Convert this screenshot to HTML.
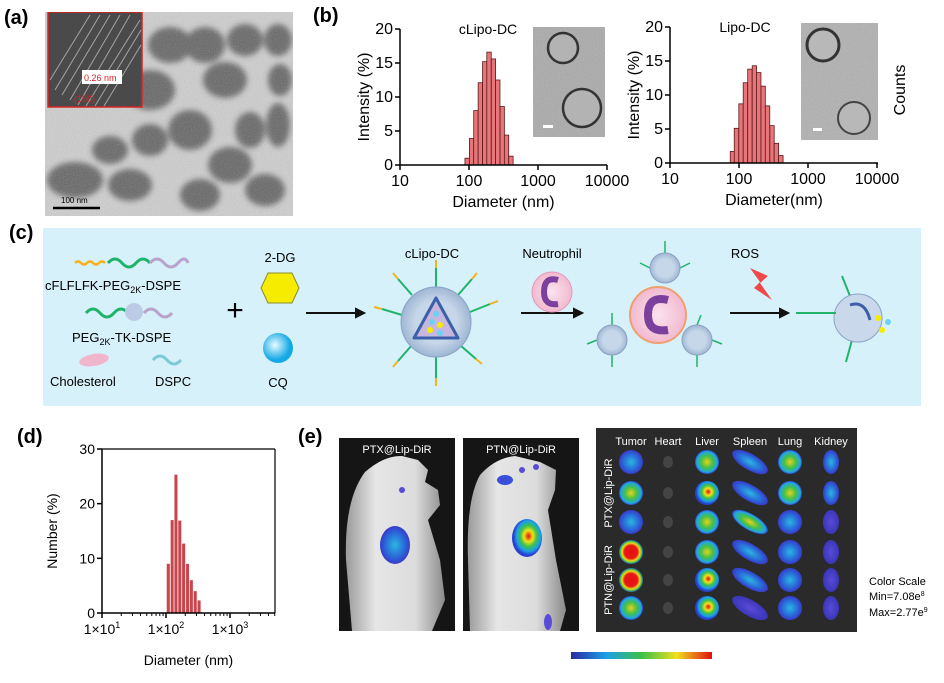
<!DOCTYPE html>
<html><head><meta charset="utf-8">
<style>
html,body{margin:0;padding:0;background:#fff;}
svg{display:block;font-family:"Liberation Sans",Arial,sans-serif;}
</style></head>
<body>
<svg id="fig" width="944" height="683" viewBox="0 0 944 683" xmlns="http://www.w3.org/2000/svg">
<defs>
<filter id="blur4" x="-50%" y="-50%" width="200%" height="200%"><feGaussianBlur stdDeviation="3"/></filter>
<filter id="noise" x="0" y="0" width="1" height="1" filterUnits="objectBoundingBox"><feTurbulence type="fractalNoise" baseFrequency="0.9" numOctaves="2" result="n"/><feColorMatrix type="saturate" values="0"/><feComponentTransfer><feFuncA type="linear" slope="0.35"/></feComponentTransfer><feComposite in2="SourceGraphic" operator="in"/></filter>
<clipPath id="clipA"><rect x="45" y="12" width="248" height="204"/></clipPath>
<clipPath id="clipB1"><rect x="533" y="27" width="72" height="110"/></clipPath>
<clipPath id="clipB2"><rect x="801" y="23" width="77" height="117"/></clipPath>
<radialGradient id="cqg" cx="0.4" cy="0.4"><stop offset="0" stop-color="#e8fbff"/><stop offset="1" stop-color="#14a9e6"/></radialGradient>
<radialGradient id="lipg"><stop offset="0.6" stop-color="#c7d7ea"/><stop offset="1" stop-color="#9fb6d3"/></radialGradient>
<radialGradient id="neug"><stop offset="0" stop-color="#fbe3ee"/><stop offset="1" stop-color="#f1b9cf"/></radialGradient>
<radialGradient id="heat" cx="0.55" cy="0.45"><stop offset="0" stop-color="#e01010"/><stop offset="0.3" stop-color="#f2e21a"/><stop offset="0.55" stop-color="#3cc24a"/><stop offset="0.8" stop-color="#1aa0e8"/><stop offset="1" stop-color="#2a3fd0"/></radialGradient>
<radialGradient id="heatG"><stop offset="0" stop-color="#e8d21a"/><stop offset="0.5" stop-color="#42c04a"/><stop offset="0.85" stop-color="#22a8e0"/><stop offset="1" stop-color="#2c45d0"/></radialGradient>
<radialGradient id="heatB"><stop offset="0" stop-color="#2bb6e0"/><stop offset="0.7" stop-color="#2a62d8"/><stop offset="1" stop-color="#3a3ac8"/></radialGradient>
<radialGradient id="heatR"><stop offset="0" stop-color="#e41010"/><stop offset="0.55" stop-color="#e81818"/><stop offset="0.75" stop-color="#eedc1a"/><stop offset="0.9" stop-color="#3cbf4a"/><stop offset="1" stop-color="#2a58d8"/></radialGradient>
<radialGradient id="heatV"><stop offset="0" stop-color="#5a4ad8"/><stop offset="1" stop-color="#3a36b8"/></radialGradient>
<linearGradient id="cbar" x1="0" x2="1"><stop offset="0" stop-color="#2a2aa0"/><stop offset="0.25" stop-color="#1ea0e8"/><stop offset="0.5" stop-color="#3cc048"/><stop offset="0.75" stop-color="#f0e020"/><stop offset="1" stop-color="#e01010"/></linearGradient>
<linearGradient id="mouseg" x1="0" x2="1"><stop offset="0" stop-color="#9a9a9a"/><stop offset="0.3" stop-color="#e6e6e6"/><stop offset="0.7" stop-color="#dcdcdc"/><stop offset="1" stop-color="#8a8a8a"/></linearGradient>
</defs>

<!-- Panel a -->
<text x="4" y="24" font-size="20" font-weight="bold">(a)</text>
<g clip-path="url(#clipA)">
<rect x="45" y="12" width="248" height="204" fill="#cfcfcf"/>
<g filter="url(#blur4)" fill="#4a4a4a" opacity="0.8">
<ellipse cx="170" cy="45" rx="22" ry="18"/><ellipse cx="205" cy="45" rx="20" ry="18"/><ellipse cx="245" cy="40" rx="18" ry="16"/><ellipse cx="278" cy="40" rx="14" ry="16"/>
<ellipse cx="225" cy="80" rx="22" ry="18"/><ellipse cx="150" cy="90" rx="25" ry="20"/><ellipse cx="280" cy="80" rx="12" ry="16"/>
<ellipse cx="190" cy="130" rx="22" ry="20"/><ellipse cx="250" cy="130" rx="15" ry="18"/><ellipse cx="278" cy="125" rx="12" ry="22"/>
<ellipse cx="150" cy="140" rx="18" ry="16"/><ellipse cx="110" cy="150" rx="18" ry="14"/>
<ellipse cx="75" cy="180" rx="28" ry="18"/><ellipse cx="130" cy="185" rx="22" ry="16"/><ellipse cx="230" cy="165" rx="22" ry="18"/><ellipse cx="200" cy="195" rx="20" ry="16"/><ellipse cx="265" cy="190" rx="20" ry="16"/>
</g>
<rect x="45" y="12" width="248" height="204" fill="#888" filter="url(#noise)"/>
<rect x="48" y="12" width="94" height="95" fill="#4a4a4a" stroke="#d22" stroke-width="1.5"/>
<g stroke="#eee" stroke-width="1" opacity="0.55">
<line x1="55" y1="90" x2="100" y2="15"/><line x1="62" y1="95" x2="110" y2="15"/><line x1="70" y1="100" x2="120" y2="15"/><line x1="78" y1="105" x2="130" y2="15"/><line x1="86" y1="106" x2="140" y2="20"/><line x1="95" y1="106" x2="141" y2="30"/><line x1="104" y1="106" x2="141" y2="45"/><line x1="50" y1="80" x2="90" y2="15"/>
</g>
<rect x="82" y="70" width="40" height="14" fill="#fff"/>
<text x="84" y="81" font-size="9" fill="#d22">0.26 nm</text>
<text x="74" y="102" font-size="9" fill="#d22">(150)</text>
<line x1="53" y1="208" x2="100" y2="208" stroke="#000" stroke-width="2.5"/>
<text x="61" y="203" font-size="8">100 nm</text>
</g>

<!-- Panel b -->
<text x="313" y="22" font-size="20" font-weight="bold">(b)</text>
<g id="chartB1"></g>
<g id="chartB2"></g>
<g clip-path="url(#clipB1)">
<rect x="533" y="27" width="72" height="110" fill="#a9a9a9"/>
<rect x="533" y="27" width="72" height="110" fill="#888" filter="url(#noise)"/>
<circle cx="563" cy="48" r="15" fill="#b3b3b3" stroke="#333" stroke-width="2.5"/>
<circle cx="582" cy="108" r="19" fill="#b3b3b3" stroke="#333" stroke-width="2.5"/>
<rect x="543" y="125" width="10" height="3" fill="#fff"/>
</g>
<g clip-path="url(#clipB2)">
<rect x="801" y="23" width="77" height="117" fill="#b0b0b0"/>
<rect x="801" y="23" width="77" height="117" fill="#888" filter="url(#noise)"/>
<circle cx="823" cy="45" r="16" fill="#b8b8b8" stroke="#333" stroke-width="3"/>
<circle cx="854" cy="118" r="16" fill="#b8b8b8" stroke="#444" stroke-width="2"/>
<rect x="813" y="128" width="9" height="3" fill="#fff"/>
</g>
<text transform="translate(905,90) rotate(-90)" text-anchor="middle" font-size="16">Counts</text>

<!-- Panel c -->
<text x="9" y="239" font-size="20" font-weight="bold">(c)</text>
<g>
<rect x="43" y="228" width="878" height="178" fill="#d6f1fa"/>
<path d="M75 263 q3 -3 6 0 t6 0 t6 0 t6 0 t6 0" stroke="#f5b21f" stroke-width="2.5" fill="none"/>
<path d="M108 263 q7 -8 14 0 t14 0 t14 0" stroke="#1fb46a" stroke-width="3" fill="none"/>
<path d="M150 263 q7 -8 14 0 t14 0 t10 0" stroke="#b9a2cc" stroke-width="3" fill="none"/>
<text x="45" y="290" font-size="13">cFLFLFK-PEG<tspan font-size="9" dy="3">2K</tspan><tspan dy="-3">-DSPE</tspan></text>
<path d="M86 313 q7 -8 14 0 t14 0 t14 0" stroke="#1fb46a" stroke-width="3" fill="none"/>
<circle cx="134" cy="312" r="9" fill="#bccce6"/>
<path d="M144 313 q7 -8 14 0 t14 0" stroke="#b9a2cc" stroke-width="3" fill="none"/>
<text x="72" y="342" font-size="13">PEG<tspan font-size="9" dy="3">2K</tspan><tspan dy="-3">-TK-DSPE</tspan></text>
<ellipse cx="94" cy="360" rx="15" ry="6" fill="#f2b6cc" transform="rotate(-10 94 360)"/>
<path d="M153 360 q7 -8 14 0 t14 0" stroke="#7dc9d8" stroke-width="3" fill="none"/>
<text x="50" y="386" font-size="13">Cholesterol</text>
<text x="155" y="386" font-size="13">DSPC</text>
<text x="235" y="320" font-size="30" text-anchor="middle">+</text>
<text x="280" y="262" font-size="13" text-anchor="middle">2-DG</text>
<polygon points="268,273 292,273 299,288 292,303 268,303 261,288" fill="#f5ec00" stroke="#8a8a30"/>
<circle cx="278" cy="348" r="15" fill="url(#cqg)"/>
<text x="278" y="387" font-size="13" text-anchor="middle">CQ</text>
<g stroke="#111" stroke-width="2" fill="#111">
<line x1="306" y1="313" x2="358" y2="313"/><polygon points="364,313 356,309 356,317"/>
<line x1="521" y1="313" x2="576" y2="313"/><polygon points="582,313 574,309 574,317"/>
<line x1="730" y1="313" x2="782" y2="313"/><polygon points="788,313 780,309 780,317"/>
</g>
<text x="432" y="258" font-size="13" text-anchor="middle">cLipo-DC</text>
<g stroke="#1fb46a" stroke-width="2" fill="none">
<path d="M436 288 l0 -20"/><path d="M402 315 l-20 -6"/><path d="M470 312 l20 -8"/><path d="M412 345 l-14 16"/><path d="M460 345 l16 14"/><path d="M436 356 l0 22"/><path d="M412 295 l-14 -16"/><path d="M458 295 l14 -16"/>
</g>
<g stroke="#f5b21f" stroke-width="2" fill="none">
<path d="M436 268 l0 -8"/><path d="M382 309 l-8 -2"/><path d="M490 304 l8 -3"/><path d="M398 361 l-5 6"/><path d="M476 359 l6 5"/><path d="M436 378 l0 8"/><path d="M398 279 l-5 -6"/><path d="M472 279 l5 -6"/>
</g>
<circle cx="436" cy="322" r="35" fill="url(#lipg)" stroke="#8aa3c5"/>
<polygon points="436,298 458,338 414,338" fill="#c7b6dd" stroke="#3b5fa8" stroke-width="3" stroke-linejoin="round"/>
<circle cx="432" cy="322" r="3" fill="#6ad3f4"/><circle cx="440" cy="325" r="3" fill="#f5ec00"/><circle cx="430" cy="330" r="3" fill="#f5ec00"/><circle cx="440" cy="333" r="3" fill="#6ad3f4"/><circle cx="436" cy="314" r="3" fill="#6ad3f4"/>
<text x="552" y="258" font-size="13" text-anchor="middle">Neutrophil</text>
<circle cx="552" cy="292" r="20" fill="url(#neug)" stroke="#e49ab8"/>
<path d="M558 280 q-14 -4 -14 12 q0 14 14 12" stroke="#7b3f9e" stroke-width="6" fill="none"/>
<circle cx="658" cy="315" r="28" fill="url(#neug)" stroke="#f0a070" stroke-width="2"/>
<path d="M668 300 q-20 -5 -20 15 q0 18 20 15" stroke="#7b3f9e" stroke-width="8" fill="none"/>
<g stroke="#1fb46a" stroke-width="1.5" fill="none">
<path d="M665 253 l0 -12"/><path d="M650 268 l-10 -5"/><path d="M680 268 l10 -5"/>
<path d="M612 325 l0 -12"/><path d="M597 340 l-10 4"/><path d="M612 355 l0 12"/>
<path d="M697 325 l4 -10"/><path d="M712 340 l10 4"/><path d="M697 355 l0 12"/>
</g>
<g fill="url(#lipg)" stroke="#8aa3c5">
<circle cx="665" cy="268" r="15"/><circle cx="612" cy="340" r="15"/><circle cx="697" cy="340" r="15"/>
</g>
<text x="745" y="258" font-size="13" text-anchor="middle">ROS</text>
<polygon points="750,268 768,276 760,283 772,300 754,288 760,282" fill="#f04848"/>
<g stroke="#1fb46a" stroke-width="2" fill="none"><path d="M850 296 l-8 -20"/><path d="M852 340 l-6 22"/></g>
<circle cx="858" cy="318" r="24" fill="#c9d8ea" stroke="#8aa3c5"/>
<path d="M850 305 q15 -5 20 15" stroke="#3b5fa8" stroke-width="3" fill="none"/>
<circle cx="878" cy="318" r="3" fill="#f5ec00"/><circle cx="888" cy="322" r="3" fill="#6ad3f4"/><circle cx="882" cy="330" r="3" fill="#f5ec00"/>
<path d="M796 313 l40 0" stroke="#1fb46a" stroke-width="2"/>
</g>

<!-- Panel d -->
<text x="17" y="443" font-size="20" font-weight="bold">(d)</text>
<g id="chartD"></g>

<!-- Panel e -->
<text x="298" y="443" font-size="20" font-weight="bold">(e)</text>
<g>
<rect x="339" y="438" width="116" height="193" fill="#151515"/>
<path d="M352 631 L346 560 Q344 500 365 472 Q385 455 402 456 L418 460 L428 470 L425 482 L438 490 L440 505 L428 520 L440 560 L445 600 L432 631 Z" fill="url(#mouseg)"/>
<ellipse cx="395" cy="545" rx="15" ry="19" fill="url(#heatB)"/>
<circle cx="402" cy="490" r="3" fill="#5a4ad8"/>
<text x="397" y="453" font-size="11" fill="#fff" text-anchor="middle">PTX@Lip-DiR</text>
</g>
<g>
<rect x="463" y="438" width="116" height="193" fill="#151515"/>
<path d="M470 631 L468 560 Q466 500 480 475 Q495 458 515 456 L540 462 L556 470 L555 490 L548 510 L556 560 L566 610 L560 631 Z" fill="url(#mouseg)"/>
<ellipse cx="527" cy="538" rx="15" ry="19" fill="url(#heat)"/>
<ellipse cx="505" cy="480" rx="8" ry="5" fill="#3a50d8"/><circle cx="522" cy="470" r="3" fill="#5a4ad8"/><circle cx="536" cy="467" r="3" fill="#5a4ad8"/>
<ellipse cx="548" cy="622" rx="4" ry="8" fill="#5a4ad8"/>
<text x="521" y="453" font-size="11" fill="#fff" text-anchor="middle">PTN@Lip-DiR</text>
</g>
<g>
<rect x="596" y="428" width="261" height="204" fill="#2a2a2a"/>
<g font-size="11" fill="#fff" text-anchor="middle">
<text x="631" y="445">Tumor</text>
<text x="668" y="445">Heart</text>
<text x="707" y="445">Liver</text>
<text x="750" y="445">Spleen</text>
<text x="790" y="445">Lung</text>
<text x="831" y="445">Kidney</text>
<text transform="translate(612,493) rotate(-90)">PTX@Lip-DiR</text>
<text transform="translate(612,580) rotate(-90)">PTN@Lip-DiR</text>
</g>
<g id="organs"></g>
</g>
<rect x="571" y="652" width="141" height="7" fill="url(#cbar)"/>
<g font-size="11">
<text x="869" y="585">Color Scale</text>
<text x="869" y="600">Min=7.08e<tspan font-size="7" dy="-4">8</tspan></text>
<text x="869" y="616">Max=2.77e<tspan font-size="7" dy="-4">9</tspan></text>
</g>
</svg>
<script>
// ---- Panel b (left) data ----
const b1Diam = [94,109,126,146,169,195,226,261,303,350,405];
const b1Vals = [1,3.9,8,12.1,15.2,16.6,15.6,12.5,8.6,4.4,1.3];
// ---- Panel b (right) data ----
const b2Diam = [80,92,107,124,144,167,193,224,259,301,348,404];
const b2Vals = [1.7,5.1,8.7,11.8,13.8,14.3,13.3,11.3,8.4,5.5,2.9,1.1];
const bXTicks = [10,100,1000,10000];
const bXTickLabels = ["10","100","1000","10000"];
const bYTicks = [0,5,10,15,20];
// ---- Panel d data ----
const dDiam = [107,123,141,162,186,214,245,282,324];
const dVals = [9,17,25.3,16.9,12.7,9,6,4,2.3];
const dXTicks = [10,100,1000];
const dYTicks = [0,10,20,30];

const NS="http://www.w3.org/2000/svg";
function mk(parent,tag,attrs,text){const e=document.createElementNS(NS,tag);for(const k in attrs)e.setAttribute(k,attrs[k]);if(text!==undefined)e.textContent=text;parent.appendChild(e);return e;}

function histChart(g,o){
  const xs=d=>o.x0+o.dec*(Math.log10(d)-Math.log10(o.xmin));
  const ys=v=>o.y0-(o.y0-o.ytop)*v/o.ymax;
  const n=o.diam.length;
  for(let i=0;i<n;i++){
    const lc=Math.log10(o.diam[i]);
    const step=n>1?(i<n-1?Math.log10(o.diam[i+1])-lc:lc-Math.log10(o.diam[i-1])):0.06;
    const xl=xs(Math.pow(10,lc-step/2)),xr=xs(Math.pow(10,lc+step/2));
    const r=mk(g,'rect',{x:xl+(o.gap||0),y:ys(o.vals[i]),width:Math.max(0.5,xr-xl-(o.gap||0)),height:o.y0-ys(o.vals[i]),fill:o.fill,stroke:o.stroke,'stroke-width':o.sw});
    
    
  }
  const ax=mk(g,'g',{stroke:'#000','stroke-width':1.5});
  mk(ax,'line',{x1:o.x0,y1:o.y0,x2:o.xend,y2:o.y0});
  mk(ax,'line',{x1:o.x0,y1:o.y0,x2:o.x0,y2:o.ytop});
  o.yt.forEach(v=>{mk(ax,'line',{x1:o.x0-5,y1:ys(v),x2:o.x0,y2:ys(v)});
    const t=mk(g,'text',{x:o.x0-7,y:ys(v)+5,'font-size':o.fs,'text-anchor':'end'},String(v));
    
    });
  o.xt.forEach((v,i)=>{mk(ax,'line',{x1:xs(v),y1:o.y0,x2:xs(v),y2:o.y0+5});
    const t=mk(g,'text',{x:xs(v),y:o.y0+21,'font-size':o.fs,'text-anchor':'middle'});
    if(o.sci){t.textContent='1×10';mk(t,'tspan',{'font-size':9,dy:-6},String(Math.round(Math.log10(v))));}
    else t.textContent=o.xl[i];
    
    });
  if(o.minor){for(let dd=1;dd<=3;dd++)for(let m=2;m<=9;m++){const v=m*Math.pow(10,dd);const x=xs(v);if(x<=o.xend)mk(ax,'line',{x1:x,y1:o.y0,x2:x,y2:o.y0+3,'stroke-width':1});}}
  const xt=mk(g,'text',{x:(o.x0+o.xend)/2,y:o.y0+o.xlabDy,'font-size':o.fs,'text-anchor':'middle'},o.xlab);
  
  
  const yt=mk(g,'text',{transform:`translate(${o.x0-o.ylabDx},${(o.y0+o.ytop)/2}) rotate(-90)`,'font-size':o.fs,'text-anchor':'middle'},o.ylab);
  
  
  if(o.title){const tt=mk(g,'text',{x:o.tx,y:o.ytop+5,'font-size':14,'text-anchor':'middle'},o.title);
    
    }
}
histChart(document.getElementById('chartB1'),{diam:b1Diam,vals:b1Vals,x0:400,xend:607,xmin:10,dec:69,y0:165,ytop:29,ymax:20,
  fill:'#e8757a',stroke:'#5a1a1a',sw:0.8,xt:bXTicks,xl:bXTickLabels,yt:bYTicks,fs:16,xlab:'Diameter (nm)',xlabDy:42,ylab:'Intensity (%)',ylabDx:31,title:'cLipo-DC',tx:488});
histChart(document.getElementById('chartB2'),{diam:b2Diam,vals:b2Vals,x0:670,xend:878,xmin:10,dec:69,y0:163,ytop:27,ymax:20,
  fill:'#e8757a',stroke:'#5a1a1a',sw:0.8,xt:bXTicks,xl:bXTickLabels,yt:bYTicks,fs:16,xlab:'Diameter(nm)',xlabDy:42,ylab:'Intensity (%)',ylabDx:31,title:'Lipo-DC',tx:745});
const gd=document.getElementById('chartD');
histChart(gd,{diam:dDiam,vals:dVals,x0:102,xend:275,xmin:10,dec:64,y0:613,ytop:449,ymax:30,
  fill:'#c9454c',stroke:'none',sw:0,gap:0.8,xt:dXTicks,yt:dYTicks,fs:14,sci:true,minor:true,xlab:'Diameter (nm)',xlabDy:52,ylab:'Number (%)',ylabDx:45});
mk(gd,'line',{x1:102,y1:449,x2:275,y2:449,stroke:'#000','stroke-width':1.2});
mk(gd,'line',{x1:275,y1:449,x2:275,y2:613,stroke:'#000','stroke-width':1.2});

// organ blobs (decorative image)
const og=document.getElementById('organs');
const cols=[631,668,707,750,790,831], rows=[462,493,522,552,580,608];
const fills=[
 ['heatB','#444','heatG','heatB','heatG','heatB'],
 ['heatG','#444','heat','heatB','heatG','heatB'],
 ['heatB','#444','heatG','heatG','heatB','heatV'],
 ['heatR','#444','heatG','heatB','heatB','heatV'],
 ['heatR','#444','heat','heatB','heatB','heatV'],
 ['heatG','#444','heat','heatV','heatB','heatV']];
rows.forEach((y,r)=>cols.forEach((x,c)=>{
  const f=fills[r][c];const rx=c===3?20:(c===1?5:(c===5?8:12));const ry=c===1?6:(c===3?8:12);
  mk(og,'ellipse',{cx:x,cy:y,rx:rx,ry:ry,fill:f.startsWith('#')?f:`url(#${f})`,transform:c===3?`rotate(30 ${x} ${y})`:''});
}));
</script>
</body></html>
